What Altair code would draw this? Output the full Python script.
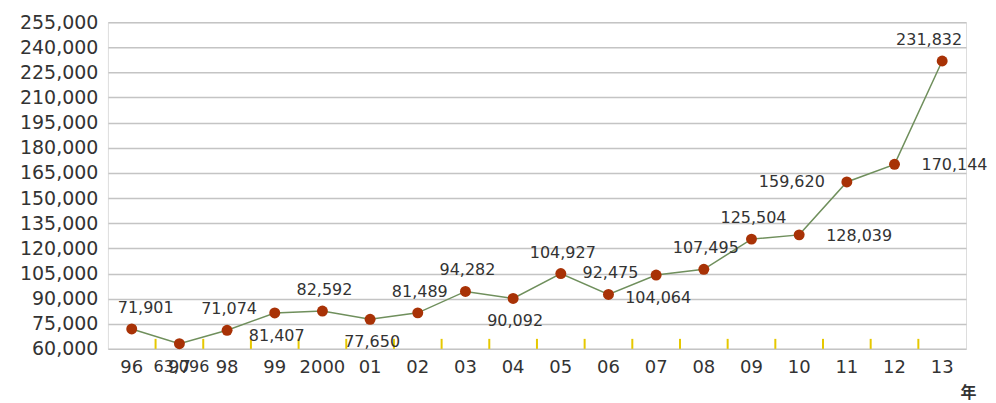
import altair as alt
import pandas as pd

years = ["96", "97", "98", "99", "2000", "01", "02", "03", "04", "05",
         "06", "07", "08", "09", "10", "11", "12", "13"]
values = [71901, 63096, 71074, 81407, 82592, 77650, 81489, 94282, 90092, 104927,
          92475, 104064, 107495, 125504, 128039, 159620, 170144, 231832]
label_side = ["aboveright", "below", "above", "below", "above", "below", "above", "above", "below", "above",
              "above", "below", "above", "above", "right", "left", "right", "aboveleft"]
y_ticks = [60000, 75000, 90000, 105000, 120000, 135000, 150000, 165000,
           180000, 195000, 210000, 225000, 240000, 255000]

df = pd.DataFrame({"year": years, "value": values, "side": label_side})
df["label"] = [f"{v:,}" for v in values]
df_ticks = pd.DataFrame({"year": years[:-1]})

FONT = "DejaVu Sans"
TXT = "#333333"

xenc = alt.X(
    "year:N", sort=years,
    scale=alt.Scale(type="band", paddingInner=0, paddingOuter=0),
    axis=alt.Axis(labelAngle=0, labelAlign="center", labelBaseline="middle",
                  ticks=False, domain=False, grid=False,
                  labelFontSize=18, labelPadding=19, labelColor=TXT, labelFont=FONT,
                  title="年", titleFont="Noto Sans CJK JP", titleFontSize=16,
                  titleFontWeight="bold", titleColor=TXT,
                  titleX=861, titleY=44, titleAlign="center", titleBaseline="middle"),
)
yenc = alt.Y(
    "value:Q",
    scale=alt.Scale(domain=[60000, 255000], nice=False, zero=False),
    axis=alt.Axis(values=y_ticks, format=",.0f", ticks=False, domain=False, grid=True,
                  gridColor="#c4c4c4", gridWidth=1.5,
                  labelFontSize=19, labelPadding=10, labelColor=TXT, labelFont=FONT,
                  title=None),
)

base = alt.Chart(df)

minor = alt.Chart(df_ticks).mark_rule(color="#e6c800", strokeWidth=2).encode(
    x=alt.X("year:N", sort=years, bandPosition=1),
    y=alt.value(317), y2=alt.value(327),
)

line = base.mark_line(color="#6f8f5c", strokeWidth=1.5).encode(x=xenc, y=yenc)
pts = base.mark_circle(color="#a83206", size=120, opacity=1).encode(x=xenc, y=yenc)

specs = {
    "above": dict(dx=2, dy=-21, align="center"),
    "aboveright": dict(dx=14, dy=-21, align="center"),
    "aboveleft": dict(dx=20, dy=-21, align="right"),
    "below": dict(dx=2, dy=23, align="center"),
    "right": dict(dx=27, dy=1, align="left"),
    "left": dict(dx=-22, dy=0, align="right"),
}
labels = []
for side, s in specs.items():
    labels.append(
        base.transform_filter(alt.datum.side == side).mark_text(
            font=FONT, fontSize=16, color=TXT, baseline="middle", **s
        ).encode(x=xenc, y=yenc, text="label:N")
    )

chart = alt.layer(minor, line, pts, *labels).properties(
    width=859, height=327,
    padding={"left": 100, "top": 14, "right": 22, "bottom": 54},
    autosize=alt.AutoSizeParams(type="none"),
).configure_view(
    fill="#efefef", stroke="#b8b8b8", strokeWidth=1.5
).configure(background="white")

chart.save("out.html", embed_options={"renderer": "svg", "actions": False})
